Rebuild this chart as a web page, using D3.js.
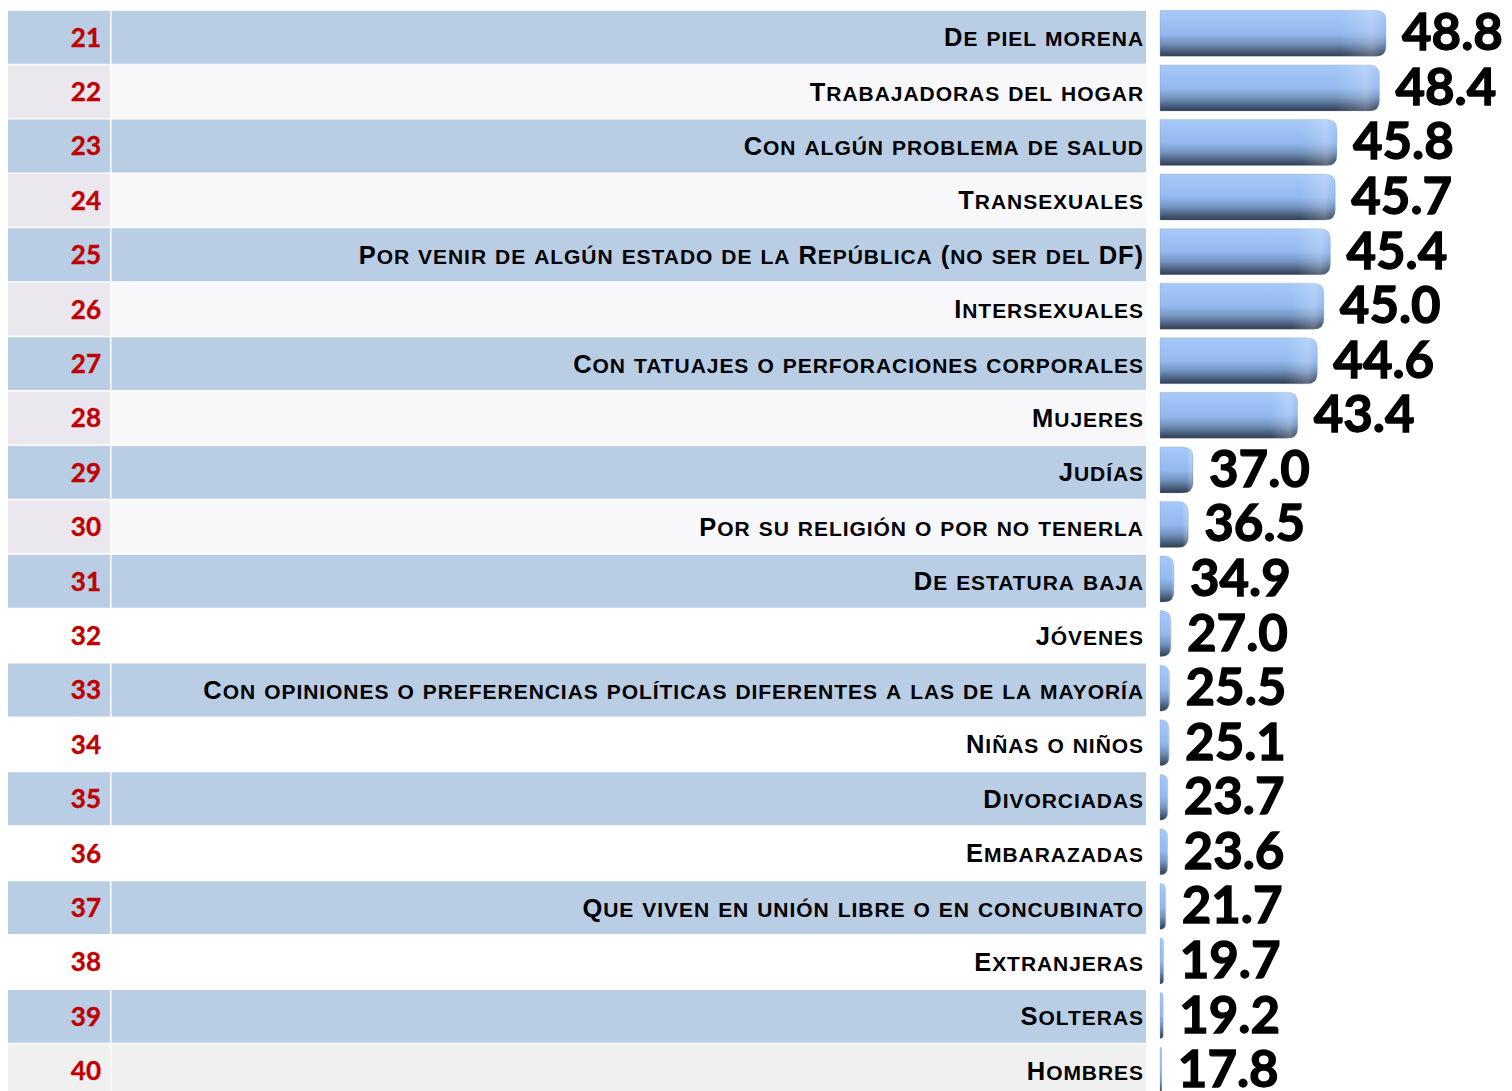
<!DOCTYPE html>
<html>
<head>
<meta charset="utf-8">
<script src="https://cdn.jsdelivr.net/npm/d3@7"></script>
<style>
  body { margin: 0; background: #fff; }
  svg { display: block; }
</style>
</head>
<body>
<div id="chart"></div>
<script>
let ranks = [21, 22, 23, 24, 25, 26, 27, 28, 29, 30, 31, 32, 33, 34, 35, 36, 37, 38, 39, 40];

let labels = [
    "De piel morena",
    "Trabajadoras del hogar",
    "Con algún problema de salud",
    "Transexuales",
    "Por venir de algún estado de la República (no ser del DF)",
    "Intersexuales",
    "Con tatuajes o perforaciones corporales",
    "Mujeres",
    "Judías",
    "Por su religión o por no tenerla",
    "De estatura baja",
    "Jóvenes",
    "Con opiniones o preferencias políticas diferentes a las de la mayoría",
    "Niñas o niños",
    "Divorciadas",
    "Embarazadas",
    "Que viven en unión libre o en concubinato",
    "Extranjeras",
    "Solteras",
    "Hombres"
];

let values = [48.8, 48.4, 45.8, 45.7, 45.4, 45.0, 44.6, 43.4, 37.0, 36.5,
              34.9, 27.0, 25.5, 25.1, 23.7, 23.6, 21.7, 19.7, 19.2, 17.8];

let data = ranks.map(function(r, i) { return { rank: r, label: labels[i], value: values[i] }; });

let dim = {
    width: 1512, height: 1091,
    table: { left: 8, split: 110, right: 1146, top: 10, bottom: 1098 },
    bars: { top: 6, bottom: 1097.5 }
};

let svg = d3.select("#chart").append("svg")
        .attr("width", dim.width)
        .attr("height", dim.height);

let defs = svg.append("defs");

let grad = defs.append("linearGradient")
        .attr("id", "barFill")
        .attr("x1", 0).attr("y1", 0).attr("x2", 0).attr("y2", 1);
grad.append("stop").attr("offset", "0%").attr("stop-color", "#a6c9f8");
grad.append("stop").attr("offset", "50%").attr("stop-color", "#93b9ef");
grad.append("stop").attr("offset", "72%").attr("stop-color", "#7393bf");
grad.append("stop").attr("offset", "100%").attr("stop-color", "#2e3c50");

let shine = defs.append("linearGradient")
        .attr("id", "barShine")
        .attr("x1", 0).attr("y1", 0).attr("x2", 1).attr("y2", 0);
shine.append("stop").attr("offset", "80%").attr("stop-color", "#ffffff").attr("stop-opacity", 0);
shine.append("stop").attr("offset", "94%").attr("stop-color", "#ffffff").attr("stop-opacity", 0.22);
shine.append("stop").attr("offset", "100%").attr("stop-color", "#ffffff").attr("stop-opacity", 0);

// table rows
let row = d3.scaleBand()
        .domain(ranks)
        .range([dim.table.top, dim.table.bottom]);

// bars sit on their own band, a bit off the table grid like in the slide
let yBar = d3.scaleBand()
        .domain(ranks)
        .range([dim.bars.top, dim.bars.bottom])
        .paddingInner(0.157)
        .paddingOuter(0.08);

// axis does not start at zero and is squeezed below ~35
let x = d3.scaleLinear()
        .domain([17, 27, 35, 37, 48.8])
        .range([1161, 1171, 1174, 1193, 1386]);
let x0 = 1160;

function rowColors(r) {
    if (r % 2 === 1) return ["#b9cde4", "#b9cde4"];
    if (r <= 30) return ["#ebe7ef", "#f8f8fb"];
    if (r === 40) return ["#f0f0f0", "#f0f0f0"];
    return ["#ffffff", "#ffffff"];
}

let rows = svg.append("g").attr("class", "table")
    .selectAll("g.row").data(data)
    .enter().append("g")
        .attr("class", "row")
        .attr("transform", function(d) { return "translate(0," + row(d.rank) + ")"; });

rows.append("rect")
        .attr("x", dim.table.left)
        .attr("width", dim.table.split - dim.table.left)
        .attr("height", row.bandwidth())
        .attr("fill", function(d) { return rowColors(d.rank)[0]; });

rows.append("rect")
        .attr("x", dim.table.split + 1.5)
        .attr("width", dim.table.right - dim.table.split - 1.5)
        .attr("height", row.bandwidth())
        .attr("fill", function(d) { return rowColors(d.rank)[1]; });

// thin white rule between rows
rows.append("line")
        .attr("x1", dim.table.left).attr("x2", dim.table.right)
        .attr("y1", 0).attr("y2", 0)
        .attr("stroke", "#ffffff")
        .attr("stroke-width", 1.5);

rows.append("text")
        .attr("x", 101)
        .attr("y", row.bandwidth() / 2 + 9.5)
        .attr("text-anchor", "end")
        .attr("fill", "#c00000")
        .attr("stroke", "#c00000")
        .attr("stroke-width", 0.4)
        .style("font-family", "Lato, 'Open Sans', sans-serif")
        .style("font-weight", "bold")
        .style("font-size", "26px")
        .text(function(d) { return d.rank; });

// small caps: capitals full size, lower case letters set as smaller capitals
function smallCaps(str) {
    let runs = [];
    for (let ch of str) {
        let small = ch !== ch.toUpperCase();
        let last = runs[runs.length - 1];
        if (last && last.small === small) last.text += ch.toUpperCase();
        else runs.push({ small: small, text: ch.toUpperCase() });
    }
    return runs;
}

let lab = rows.append("text")
        .attr("x", 1144)
        .attr("y", row.bandwidth() / 2 + 9)
        .attr("text-anchor", "end")
        .attr("fill", "#000")
        .style("font-family", "'Liberation Sans', Arial, sans-serif")
        .style("font-weight", "bold")
        .style("letter-spacing", "0.95px");

lab.selectAll("tspan")
    .data(function(d) { return smallCaps(d.label); })
    .enter().append("tspan")
        .style("font-size", function(d) { return d.small ? "21px" : "25.5px"; })
        .text(function(d) { return d.text; });

// bars
let bars = svg.append("g").attr("class", "bars")
    .selectAll("g.bar").data(data)
    .enter().append("g")
        .attr("class", "bar");

function barPath(d) {
    let y0 = yBar(d.rank), h = yBar.bandwidth();
    let w = x(d.value) - x0;
    let r = Math.min(10, w);
    let p = d3.path();
    p.moveTo(x0, y0);
    p.lineTo(x0 + w - r, y0);
    p.quadraticCurveTo(x0 + w, y0, x0 + w, y0 + r);
    p.lineTo(x0 + w, y0 + h - r);
    p.quadraticCurveTo(x0 + w, y0 + h, x0 + w - r, y0 + h);
    p.lineTo(x0, y0 + h);
    p.closePath();
    return p.toString();
}

bars.append("path")
        .attr("d", barPath)
        .attr("fill", "url(#barFill)")
        .attr("stroke", "#8d9bb0")
        .attr("stroke-opacity", 0.35)
        .attr("stroke-width", 0.8);

bars.append("path")
        .attr("d", barPath)
        .attr("fill", "url(#barShine)");

bars.append("text")
        .attr("x", function(d) { return x(d.value) + 16; })
        .attr("y", function(d) { return yBar(d.rank) + yBar.bandwidth() / 2 + 17; })
        .attr("fill", "#000")
        .attr("stroke", "#000")
        .attr("stroke-width", 1.3)
        .style("font-family", "Lato, 'Open Sans', sans-serif")
        .style("font-weight", "bold")
        .style("font-size", "51px")
        .text(function(d) { return d3.format(".1f")(d.value); });
</script>
</body>
</html>
